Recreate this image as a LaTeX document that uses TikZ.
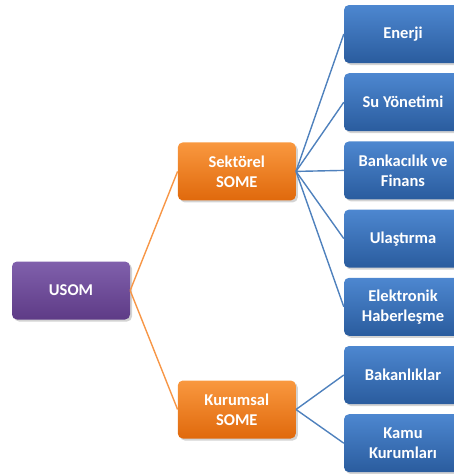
\documentclass[tikz,border=0pt]{standalone}
\usepackage{fontspec}
\setmainfont{Carlito}
\usepackage{tikz}
\usetikzlibrary{positioning, shadows}
\definecolor{usomtop}{HTML}{8060AC}
\definecolor{usombot}{HTML}{5E3B86}
\definecolor{sometop}{HTML}{F9983F}
\definecolor{somebot}{HTML}{E0690C}
\definecolor{birimtop}{HTML}{4D87D0}
\definecolor{birimbot}{HTML}{2A5C9E}
\definecolor{orangeline}{HTML}{F79646}
\definecolor{blueline}{HTML}{4F81BD}
\tikzstyle{box} = [rectangle, rounded corners=5pt, minimum width=118pt, minimum height=58pt, text centered, align=center, text=white, font=\fontsize{16.5}{20}\selectfont\bfseries, drop shadow={shadow xshift=2pt, shadow yshift=-2pt, opacity=0.35}]
\tikzstyle{usombox} = [box, top color=usomtop, bottom color=usombot]
\tikzstyle{somebox} = [box, top color=sometop, bottom color=somebot]
\tikzstyle{birimbox} = [box, top color=birimtop, bottom color=birimbot]
\tikzstyle{orangelink} = [orangeline, line width=1.4pt]
\tikzstyle{bluelink} = [blueline, line width=1.4pt]

\begin{document}
\begin{tikzpicture}[x=1pt, y=1pt, node distance=68.2pt]
        \useasboundingbox (0,0) rectangle (453,-474);
        \node (enerji) [birimbox] at (403,-34) {Enerji};
        \node (su) [birimbox, below of=enerji] {Su Yönetimi};
        \node (banka) [birimbox, below of=su] {Bankacılık ve\\Finans};
        \node (ulastirma) [birimbox, below of=banka] {Ulaştırma};
        \node (haberlesme) [birimbox, below of=ulastirma] {Elektronik\\Haberleşme};
        \node (bakanlik) [birimbox, below of=haberlesme] {Bakanlıklar};
        \node (kamu) [birimbox, below of=bakanlik] {Kamu\\Kurumları};
        \node (sektorel) [somebox, left of=banka, xshift=-98pt, yshift=-1pt] {Sektörel\\SOME};
        \node (kurumsal) [somebox, left of=bakanlik, xshift=-98pt, yshift=-34.5pt] {Kurumsal\\SOME};
        \node (usom) [usombox] at (71,-290.5) {USOM};

        \draw [orangelink] (usom.east) -- (sektorel.west);
        \draw [orangelink] (usom.east) -- (kurumsal.west);
        \draw [bluelink] (sektorel.east) -- (enerji.west);
        \draw [bluelink] (sektorel.east) -- (su.west);
        \draw [bluelink] (sektorel.east) -- (banka.west);
        \draw [bluelink] (sektorel.east) -- (ulastirma.west);
        \draw [bluelink] (sektorel.east) -- (haberlesme.west);
        \draw [bluelink] (kurumsal.east) -- (bakanlik.west);
        \draw [bluelink] (kurumsal.east) -- (kamu.west);
    \end{tikzpicture}
\end{document}
